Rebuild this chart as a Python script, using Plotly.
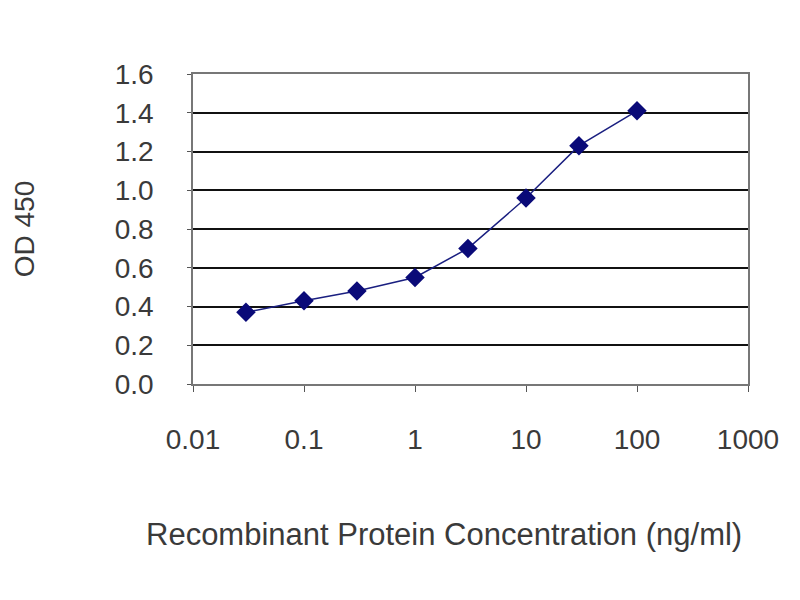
import plotly.graph_objects as go

concentration = [0.03, 0.1, 0.3, 1, 3, 10, 30, 100]
od450 = [0.37, 0.43, 0.48, 0.55, 0.70, 0.96, 1.23, 1.41]
x_ticks = [0.01, 0.1, 1, 10, 100, 1000]
x_ticktext = ["0.01", "0.1", "1", "10", "100", "1000"]
y_ticks = [0.0, 0.2, 0.4, 0.6, 0.8, 1.0, 1.2, 1.4, 1.6]
y_ticktext = ["0.0", "0.2", "0.4", "0.6", "0.8", "1.0", "1.2", "1.4", "1.6"]
x_title = "Recombinant Protein Concentration (ng/ml)"
y_title = "OD 450"

fig = go.Figure()
fig.add_trace(go.Scatter(
    x=concentration, y=od450, mode="lines+markers",
    line=dict(color="#1a1f80", width=1.5),
    marker=dict(symbol="diamond", size=15, color="#0a0a78"),
    showlegend=False,
))

font_family = "Liberation Sans, Arial, sans-serif"
fig.update_layout(
    width=800, height=600,
    margin=dict(l=185, r=60, t=66, b=224),
    paper_bgcolor="white", plot_bgcolor="white",
    font=dict(family=font_family, size=28, color="#3a3a3a"),
    xaxis=dict(
        type="log", range=[-2, 3],
        tickvals=x_ticks, ticktext=x_ticktext,
        showgrid=False, zeroline=False, automargin=False,
        showline=True, linecolor="#777777", linewidth=1.5, mirror=True,
        ticks="outside", ticklen=6, tickcolor="#555555",
        ticklabelstandoff=24,
        tickfont=dict(size=28),
    ),
    yaxis=dict(
        range=[0, 1.6], tickvals=y_ticks, ticktext=y_ticktext,
        showgrid=True, gridcolor="#111111", gridwidth=2,
        zeroline=False, automargin=False,
        showline=True, linecolor="#777777", linewidth=1.5, mirror=True,
        ticks="outside", ticklen=4, tickcolor="#555555",
        ticklabelstandoff=28,
        tickfont=dict(size=28),
        title=dict(text=y_title, font=dict(size=28), standoff=72),
    ),
    annotations=[dict(
        text=x_title, xref="paper", yref="paper",
        x=0.452, y=-0.485, xanchor="center", yanchor="middle",
        showarrow=False, font=dict(size=31, color="#3a3a3a"),
    )],
)

fig.write_html("out.html")
